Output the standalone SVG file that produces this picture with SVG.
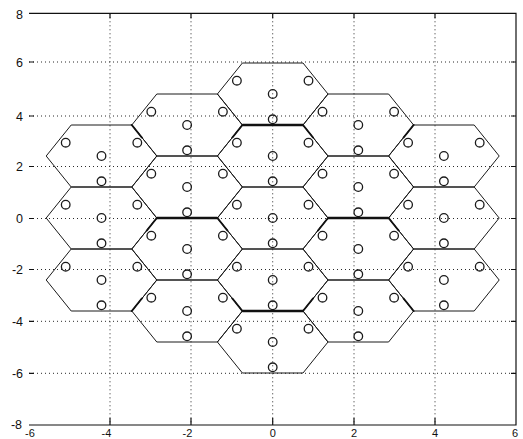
<svg xmlns="http://www.w3.org/2000/svg" width="523" height="439" viewBox="0 0 523 439">
<style>
.grid{stroke:#2a2a2a;stroke-width:1;stroke-dasharray:1 3;fill:none}
.axis{stroke:#111;stroke-width:1.2;fill:none}
.hex{fill:none;stroke:#1a1a1a;stroke-width:1}
.mk{fill:none;stroke:#1a1a1a;stroke-width:1.3}
.bold{stroke:#111;stroke-width:2.6;fill:none}
.stub{stroke:#111;stroke-width:2;fill:none;stroke-linecap:round}
text{font-family:"Liberation Sans",Arial,sans-serif;font-size:12.5px;fill:#111}
.yl{text-anchor:end}
.xl{text-anchor:middle;font-size:11px}
</style>
<defs>
<polygon id="hexShape" class="hex" points="-55.3,0 -30.3,-31 30.3,-31 55.3,0 30.3,31 -30.3,31"/>
<g id="marks" class="mk"><circle r="4.3" cx="0" cy="0"/><circle r="4.3" cx="0" cy="25.3"/><circle r="4.3" cx="-35.8" cy="-13.3"/><circle r="4.3" cx="35.8" cy="-13.3"/></g>
</defs>
<rect width="523" height="439" fill="#fff"/>
<g id="grid" class="grid">
<path d="M110,13.3V425M191,13.3V425M272.7,13.3V425M354,13.3V425M435,13.3V425"/>
<path d="M29,62H516M29,116H516M29,166.5H516M29,218.5H516M29,269.5H516M29,321.3H516M29,373.3H516"/>
</g>
<g id="axes" class="axis">
<path d="M29,13.3H516V425H29"/>
<path d="M110,13.3v5M191,13.3v5M272.7,13.3v5M354,13.3v5M435,13.3v5"/>
<path d="M110,425v-7M191,425v-7M272.7,425v-7M354,425v-7M435,425v-7"/>
<path d="M29,62h5M29,116h5M29,166.5h5M29,218.5h5M29,269.5h5M29,321.3h5M29,373.3h5"/>
<path d="M516,62h-5M516,116h-5M516,166.5h-5M516,218.5h-5M516,269.5h-5M516,321.3h-5M516,373.3h-5"/>
</g>
<g id="ylabels">
<text class="yl" x="23" y="18.5">8</text>
<text class="yl" x="23" y="66.5">6</text>
<text class="yl" x="23" y="120.5">4</text>
<text class="yl" x="23" y="171">2</text>
<text class="yl" x="23" y="223">0</text>
<text class="yl" x="23" y="274">-2</text>
<text class="yl" x="23" y="325.8">-4</text>
<text class="yl" x="23" y="377.8">-6</text>
<text class="yl" x="22" y="428.5">-8</text>
</g>
<g id="xlabels">
<text class="xl" x="30" y="436.5">-6</text>
<text class="xl" x="106.5" y="436.5">-4</text>
<text class="xl" x="187.5" y="436.5">-2</text>
<text class="xl" x="272.7" y="436.5">0</text>
<text class="xl" x="354" y="436.5">2</text>
<text class="xl" x="435" y="436.5">4</text>
<text class="xl" x="515" y="436.5">6</text>
</g>
<g id="cell-m2-a" transform="translate(101.5,156)"><use href="#hexShape"/><use href="#marks"/></g>
<g id="cell-m2-b" transform="translate(101.5,218)"><use href="#hexShape"/><use href="#marks"/></g>
<g id="cell-m2-c" transform="translate(101.5,280)"><use href="#hexShape"/><use href="#marks"/></g>
<g id="cell-m1-a" transform="translate(187.1,125)"><use href="#hexShape"/><use href="#marks"/></g>
<g id="cell-m1-b" transform="translate(187.1,187)"><use href="#hexShape"/><use href="#marks"/></g>
<g id="cell-m1-c" transform="translate(187.1,249)"><use href="#hexShape"/><use href="#marks"/></g>
<g id="cell-m1-d" transform="translate(187.1,311)"><use href="#hexShape"/><use href="#marks"/></g>
<g id="cell-0-a" transform="translate(272.7,94)"><use href="#hexShape"/><use href="#marks"/></g>
<g id="cell-0-b" transform="translate(272.7,156)"><use href="#hexShape"/><use href="#marks"/></g>
<g id="cell-0-c" transform="translate(272.7,218)"><use href="#hexShape"/><use href="#marks"/></g>
<g id="cell-0-d" transform="translate(272.7,280)"><use href="#hexShape"/><use href="#marks"/></g>
<g id="cell-0-e" transform="translate(272.7,342)"><use href="#hexShape"/><use href="#marks"/></g>
<g id="cell-p1-a" transform="translate(358.3,125)"><use href="#hexShape"/><use href="#marks"/></g>
<g id="cell-p1-b" transform="translate(358.3,187)"><use href="#hexShape"/><use href="#marks"/></g>
<g id="cell-p1-c" transform="translate(358.3,249)"><use href="#hexShape"/><use href="#marks"/></g>
<g id="cell-p1-d" transform="translate(358.3,311)"><use href="#hexShape"/><use href="#marks"/></g>
<g id="cell-p2-a" transform="translate(443.9,156)"><use href="#hexShape"/><use href="#marks"/></g>
<g id="cell-p2-b" transform="translate(443.9,218)"><use href="#hexShape"/><use href="#marks"/></g>
<g id="cell-p2-c" transform="translate(443.9,280)"><use href="#hexShape"/><use href="#marks"/></g>
<g id="connectors">
<path class="bold" d="M242.4,125H303M156.8,218H217.4M328,218H388.6M242.4,311H303"/>
<path class="stub" d="M242.4,125l-10,12.5M303,125l10,12.5M156.8,218l-10,12.5M217.4,218l10,12.5M328,218l-10,12.5M388.6,218l10,12.5M242.4,311l-10,-12.5M303,311l10,-12.5M131.8,125l10,12.5M413.6,125l-10,12.5M131.8,311l10,-12.5M413.6,311l-10,-12.5"/>
</g>
</svg>
